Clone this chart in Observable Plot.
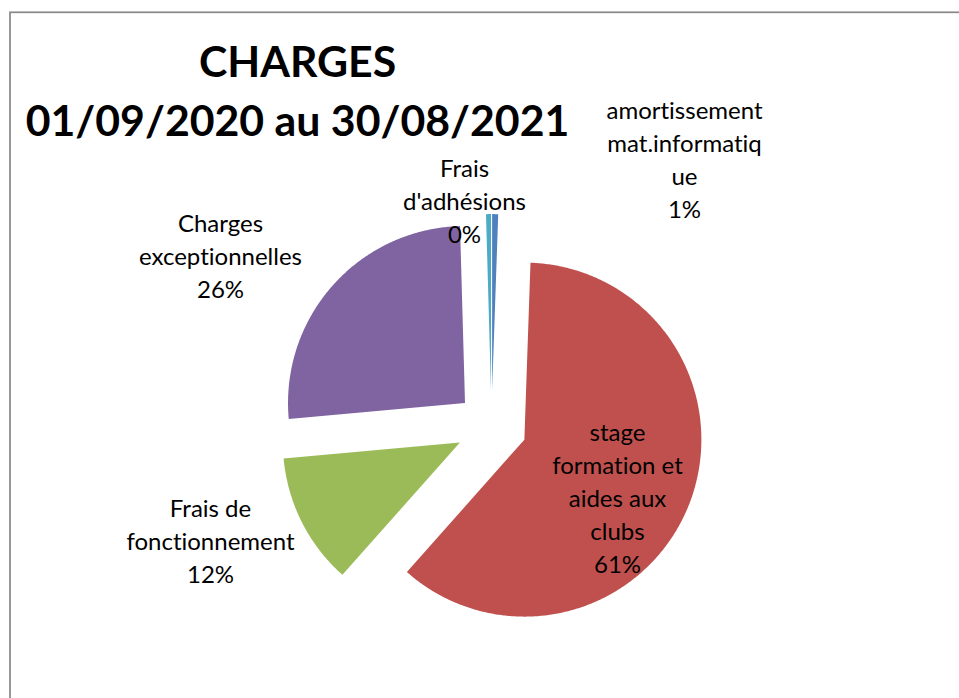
<!DOCTYPE html>
<html><head><meta charset="utf-8">
<script src="https://cdn.jsdelivr.net/npm/d3@7"></script>
<script src="https://cdn.jsdelivr.net/npm/@observablehq/plot@0.6"></script>
<style>body{margin:0;background:#fff} svg text{font-variant-ligatures:none;font-feature-settings:"liga" 0,"clig" 0;}</style>
</head><body><div id="chart"></div>
<script>
// ---- data ----
const categories = ["amortissement mat.informatique", "stage formation et aides aux clubs", "Frais de fonctionnement", "Charges exceptionnelles", "Frais d'adhésions"];
const values = [0.55, 61, 12, 26, 0.45];
const labelLines = [["amortissement", "mat.informatiq", "ue"], ["stage", "formation et", "aides aux", "clubs"], ["Frais de", "fonctionnement"], ["Charges", "exceptionnelles"], ["Frais", "d'adhésions"]];
const colors = ["#4F81BD", "#C0504D", "#9BBB59", "#8064A2", "#4BACC6"];
const titleLines = ["CHARGES", "01/09/2020 au 30/08/2021"];

// ---- layout (pixels) ----
const W = 959, H = 698, CX = 491, CY = 426, R = 177, EXPLODE = 0.2;
const labelAnchor = [[684, 217], [617, 572], [210, 582], [220, 297], [464, 242]]; // last baseline of each label
const titleAnchor = [297, 135];

const rows = categories.map((c, i) => ({cat: c, value: values[i], i}));
const total = d3.sum(values);
const arcs = d3.pie().sort(null).value(d => d.value)(rows);

const pts = [];
for (const a of arcs) {
  const m = (a.startAngle + a.endAngle) / 2;
  const ox = EXPLODE * Math.sin(m), oy = EXPLODE * Math.cos(m);
  const cat = a.data.cat;
  pts.push({cat, x: ox, y: oy});
  const n = Math.max(2, Math.ceil((a.endAngle - a.startAngle) / (Math.PI / 360)));
  for (let k = 0; k <= n; k++) {
    const t = a.startAngle + (a.endAngle - a.startAngle) * k / n;
    pts.push({cat, x: ox + Math.sin(t), y: oy + Math.cos(t)});
  }
  pts.push({cat, x: ox, y: oy});
}

const labels = rows.map((r, i) => ({
  text: [...labelLines[i], Math.round(r.value / total * 100) + "%"].join("\n"),
  x: (labelAnchor[i][0] - CX) / R,
  y: (CY - labelAnchor[i][1]) / R
}));

const chart = Plot.plot({
  width: W, height: H,
  marginLeft: 9.5, marginTop: 11.8, marginRight: -3, marginBottom: -3,
  style: {background: "#fff", fontFamily: "Lato"},
  x: {domain: [-CX / R, (W - CX) / R], range: [0, W], axis: null},
  y: {domain: [(CY - H) / R, CY / R], range: [H, 0], axis: null},
  color: {domain: categories, range: colors},
  marks: [
    Plot.frame({stroke: "#8a8a8a", strokeWidth: 1.75}),
    Plot.line(pts, {x: "x", y: "y", z: "cat", fill: "cat", stroke: "none"}),
    Plot.text(labels, {x: "x", y: "y", text: "text", lineAnchor: "bottom", textAnchor: "middle",
      lineHeight: 33 / 24, fontSize: 24, fontFamily: "Lato", fill: "#000"}),
    Plot.text([titleLines.join("\n")], {text: d => d, frameAnchor: "top-left",
      dx: titleAnchor[0] - 9.5, dy: titleAnchor[1] - 11.8, lineAnchor: "bottom", textAnchor: "middle",
      lineHeight: 59 / 42.8, fontSize: 42.8, fontWeight: "bold", fontFamily: "Lato", fill: "#000"})
  ]
});
document.getElementById("chart").append(chart);
</script>
</body></html>
